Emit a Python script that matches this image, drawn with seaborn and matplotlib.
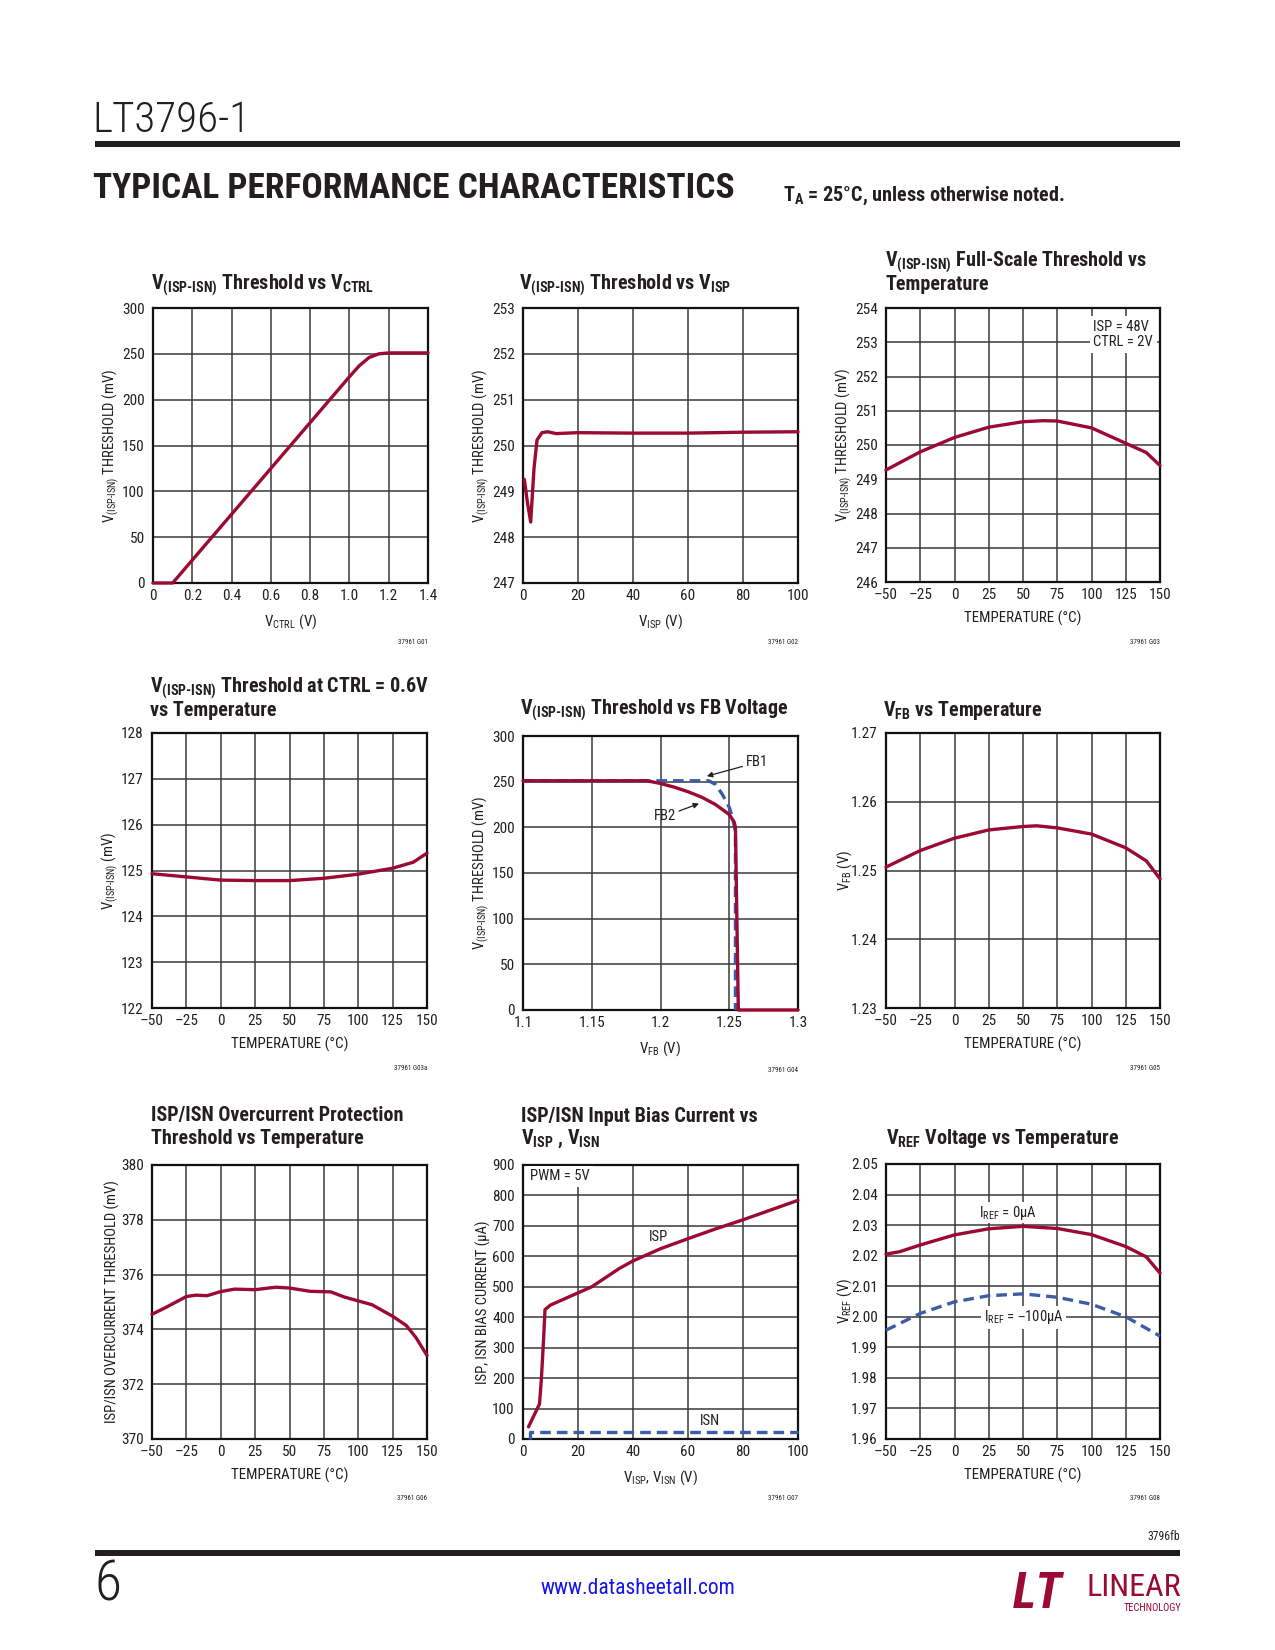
import numpy as np
import pandas as pd
import matplotlib
matplotlib.use("Agg")
import matplotlib.pyplot as plt
import matplotlib.font_manager as fm
from matplotlib.patches import Rectangle
import seaborn as sns

# ---------------- data ----------------
ctrl_v = [0, 0.1, 0.2, 0.4, 0.6, 0.8, 1.0, 1.05, 1.1, 1.15, 1.2, 1.4]
ctrl_thr = [0, 0, 25, 75, 125, 175, 225, 237, 246, 250, 251, 251]

visp_v = [0.5, 1.5, 2.8, 4.0, 5.1, 6.9, 9, 12, 20, 40, 60, 80, 100]
visp_thr = [249.26, 248.8, 248.33, 249.5, 250.12, 250.28, 250.3, 250.26, 250.28, 250.27, 250.27, 250.29, 250.3]

temp_fs = [-50, -25, 0, 25, 50, 65, 75, 100, 125, 140, 150]
fs_thr = [249.27, 249.8, 250.22, 250.52, 250.68, 250.71, 250.7, 250.5, 250.05, 249.78, 249.4]

temp_c06 = [-50, -25, 0, 25, 50, 75, 100, 125, 140, 150]
c06_thr = [124.93, 124.86, 124.79, 124.78, 124.78, 124.83, 124.92, 125.05, 125.18, 125.38]

fb2_x = [1.1, 1.19, 1.2, 1.21, 1.22, 1.23, 1.24, 1.25, 1.2535, 1.2545, 1.2566, 1.3]
fb2_y = [251, 251, 248, 244, 239, 233, 225, 214, 206, 200, 0, 0]
fb1_x = [1.1, 1.235, 1.24, 1.245, 1.25, 1.2525, 1.2545, 1.2545]
fb1_y = [251, 251, 247, 236, 222, 210, 195, 0]

temp_vfb = [-50, -25, 0, 25, 50, 60, 75, 100, 125, 140, 150]
vfb = [1.2505, 1.2529, 1.2547, 1.2559, 1.2564, 1.2565, 1.2562, 1.2553, 1.2533, 1.2514, 1.2488]

temp_ocp = [-50, -40, -25, -18, -10, 0, 10, 25, 40, 50, 65, 80, 90, 100, 110, 125, 135, 142, 150]
ocp = [374.55, 374.8, 375.2, 375.25, 375.23, 375.38, 375.47, 375.45, 375.54, 375.51, 375.39, 375.37,
       375.18, 375.04, 374.9, 374.48, 374.14, 373.7, 373.05]

isp_x = [2, 6, 6.7, 7.5, 8, 10, 15, 20, 25, 30, 35, 40, 45, 50, 60, 70, 80, 90, 100]
isp_y = [40, 115, 200, 330, 425, 440, 460, 480, 500, 530, 560, 585, 605, 625, 658, 690, 720, 752, 784]
isn_x = [2.7, 2.7, 100]
isn_y = [0, 22, 22]

temp_ref0 = [-50, -40, -25, 0, 25, 50, 75, 100, 125, 140, 150]
vref0 = [2.0205, 2.0213, 2.0235, 2.0268, 2.0288, 2.0296, 2.0289, 2.0269, 2.0230, 2.0196, 2.0143]
temp_ref100 = [-50, -25, 0, 25, 50, 75, 100, 125, 150]
vref100 = [1.9956, 2.0011, 2.0049, 2.0069, 2.0075, 2.0064, 2.0041, 2.0000, 1.9937]

temp_ticks = [-50, -25, 0, 25, 50, 75, 100, 125, 150]
temp_labels = ['\u201350', '\u201325', '0', '25', '50', '75', '100', '125', '150']

# ---------------- style ----------------
sns.set_theme(style="white")
avail = {f.name for f in fm.fontManager.ttflist}
COND, STRETCH = None, 'normal'
for c in ['Roboto Condensed', 'Liberation Sans Narrow', 'Open Sans Condensed']:
    if c in avail:
        COND = c
        break
if COND is None:
    if any(f.name == 'DejaVu Sans' and 'condensed' in str(f.stretch) for f in fm.fontManager.ttflist):
        COND, STRETCH = 'DejaVu Sans', 'condensed'
    else:
        COND = 'Liberation Sans' if 'Liberation Sans' in avail else 'DejaVu Sans'
plt.rcParams['font.family'] = [COND, 'DejaVu Sans']
plt.rcParams['font.stretch'] = STRETCH
plt.rcParams['mathtext.default'] = 'regular'
plt.rcParams['axes.unicode_minus'] = False

RED = '#9a0a32'
BLUE = '#3d5ca8'
GRID = '#3a3a3a'
TXT = '#231f20'
HY = '\u2010'  # hyphen (not a math minus)

W, H = 1275, 1650
fig = plt.figure(figsize=(W / 100, H / 100), dpi=100)
fig.patch.set_facecolor('white')


def ftext(x, y, s, **kw):
    kw.setdefault('color', TXT)
    return fig.text(x / W, 1 - y / H, s, **kw)


def make_ax(l, t, r, b):
    ax = fig.add_axes([l / W, 1 - b / H, (r - l) / W, (b - t) / H])
    ax.set_facecolor('white')
    return ax


def style(ax, xlim, ylim, xt, xtl, yt, ytl, xlabel, ylabel):
    ax.set_xlim(*xlim)
    ax.set_ylim(*ylim)
    ax.set_xticks(xt)
    ax.set_xticklabels(xtl)
    ax.set_yticks(yt)
    ax.set_yticklabels(ytl)
    ax.grid(True, color=GRID, lw=1.1)
    ax.set_axisbelow(True)
    for sp in ax.spines.values():
        sp.set_visible(True)
        sp.set_color('#111111')
        sp.set_linewidth(1.6)
    ax.tick_params(axis='both', length=0, labelsize=11, colors=TXT)
    ax.tick_params(axis='x', pad=4.5)
    ax.tick_params(axis='y', pad=6)
    ax.set_xlabel(xlabel, fontsize=10.8, color=TXT)
    ax.set_ylabel(ylabel, fontsize=10.5, color=TXT)
    ax.xaxis.set_label_coords(0.5, -0.105)
    ax.yaxis.set_label_coords(-0.117, 0.5)


def line(ax, x, y, color=RED, dashed=False, lw=2.4):
    df = pd.DataFrame({'x': x, 'y': y})
    l = sns.lineplot(data=df, x='x', y='y', ax=ax, color=color, lw=lw,
                     estimator=None, sort=False, legend=False)
    ln = l.lines[-1]
    ln.set_zorder(3)
    ln.set_clip_on(False)
    if dashed:
        ln.set_dashes([3.2, 1.8])
    return l


def title(x, y, lines):
    for i, s in enumerate(lines):
        ftext(x, y + 23 * i, s, fontsize=14.5, fontweight='bold', va='center', ha='left')


def fnote(r, y, s):
    ftext(r, y, s, fontsize=5, ha='right', va='center')


VISN = r'V$_{\mathregular{(ISP' + HY + r'ISN)}}$'
thr_lbl = VISN + ' THRESHOLD (mV)'
temp_lbl = 'TEMPERATURE (\u00b0C)'

# ---- header / footer ----
ftext(92, 121, 'LT3796' + HY + '1', fontsize=31, fontweight='light', va='center', ha='left')
fig.add_artist(Rectangle((95 / W, 1 - 147 / H), (1180 - 95) / W, 6 / H,
                         transform=fig.transFigure, color=TXT, lw=0))
ftext(93, 189, 'TYPICAL PERFORMANCE CHARACTERISTICS', fontsize=25.5, fontweight='heavy',
      va='center', ha='left')
ftext(783, 196, r'T$_{\mathregular{A}}$ = 25' + '\u00b0' + 'C, unless otherwise noted.',
      fontsize=14.5, fontweight='bold', va='center', ha='left')

ftext(1180, 1536, '3796fb', fontsize=8.5, ha='right', va='center')
fig.add_artist(Rectangle((95 / W, 1 - 1556 / H), (1180 - 95) / W, 6 / H,
                         transform=fig.transFigure, color=TXT, lw=0))
ftext(95, 1585, '6', fontsize=40, fontweight='light', va='center', ha='left')
ftext(638, 1589, 'www.datasheetall.com', fontsize=15.5, color='#1515ee', va='center', ha='center')
ftext(1013, 1594, 'LT', fontsize=36, fontweight='heavy', style='italic', color=RED, va='center', ha='left')
ftext(1181, 1588, 'LINEAR', fontsize=23, color=RED, va='center', ha='right')
ftext(1181, 1608, 'TECHNOLOGY', fontsize=7.5, color=RED, va='center', ha='right')

# ---- panel 1 ----
ax = make_ax(153, 308, 428, 583)
line(ax, ctrl_v, ctrl_thr)
style(ax, (0, 1.4), (0, 300), [0, 0.2, 0.4, 0.6, 0.8, 1.0, 1.2, 1.4],
      ['0', '0.2', '0.4', '0.6', '0.8', '1.0', '1.2', '1.4'],
      [0, 50, 100, 150, 200, 250, 300], ['0', '50', '100', '150', '200', '250', '300'],
      r'V$_{\mathregular{CTRL}}$ (V)', thr_lbl)
title(151, 285, [VISN + r' Threshold vs V$_{\mathregular{CTRL}}$'])
fnote(428, 643, '37961 G01')

# ---- panel 2 ----
ax = make_ax(523, 308, 798, 583)
line(ax, visp_v, visp_thr)
style(ax, (0, 100), (247, 253), [0, 20, 40, 60, 80, 100], ['0', '20', '40', '60', '80', '100'],
      [247, 248, 249, 250, 251, 252, 253], ['247', '248', '249', '250', '251', '252', '253'],
      r'V$_{\mathregular{ISP}}$ (V)', thr_lbl)
title(519, 285, [VISN + r' Threshold vs V$_{\mathregular{ISP}}$'])
fnote(798, 643, '37961 G02')

# ---- panel 3 ----
ax = make_ax(886, 308, 1160, 582)
line(ax, temp_fs, fs_thr)
style(ax, (-50, 150), (246, 254), temp_ticks, temp_labels,
      list(range(246, 255)), [str(v) for v in range(246, 255)], temp_lbl, thr_lbl)
ax.text(0.975, 0.958, 'ISP = 48V\nCTRL = 2V', transform=ax.transAxes, ha='right', va='top',
        fontsize=10.5, color=TXT, multialignment='left', linespacing=1.15,
        bbox=dict(fc='white', ec='none', pad=2.5))
title(885, 262, [VISN + ' Full' + HY + 'Scale Threshold vs', 'Temperature'])
fnote(1160, 643, '37961 G03')

# ---- panel 4 ----
ax = make_ax(152, 733, 427, 1008)
line(ax, temp_c06, c06_thr)
style(ax, (-50, 150), (122, 128), temp_ticks, temp_labels,
      list(range(122, 129)), [str(v) for v in range(122, 129)], temp_lbl, VISN + ' (mV)')
title(150, 688, [VISN + ' Threshold at CTRL = 0.6V', 'vs Temperature'])
fnote(427, 1068, '37961 G03a')

# ---- panel 5 ----
ax = make_ax(523, 736, 798, 1010)
line(ax, fb1_x, fb1_y, color=BLUE, dashed=True)
line(ax, fb2_x, fb2_y)
style(ax, (1.1, 1.3), (0, 300), [1.1, 1.15, 1.2, 1.25, 1.3], ['1.1', '1.15', '1.2', '1.25', '1.3'],
      [0, 50, 100, 150, 200, 250, 300], ['0', '50', '100', '150', '200', '250', '300'],
      r'V$_{\mathregular{FB}}$ (V)', thr_lbl)
ax.annotate('FB1', xy=(1.2337, 256), xytext=(1.262, 271), fontsize=10.5, color=TXT,
            ha='left', va='center',
            arrowprops=dict(arrowstyle='-|>', color=TXT, lw=0.9, shrinkA=0, shrinkB=0,
                            mutation_scale=8))
ax.annotate('FB2', xy=(1.228, 226), xytext=(1.203, 212), fontsize=10.5, color=TXT,
            ha='center', va='center',
            arrowprops=dict(arrowstyle='-|>', color=TXT, lw=0.9, shrinkA=0, shrinkB=0,
                            mutation_scale=8))
title(520, 710, [VISN + ' Threshold vs FB Voltage'])
fnote(798, 1070, '37961 G04')

# ---- panel 6 ----
ax = make_ax(886, 733, 1160, 1008)
line(ax, temp_vfb, vfb)
style(ax, (-50, 150), (1.23, 1.27), temp_ticks, temp_labels,
      [1.23, 1.24, 1.25, 1.26, 1.27], ['1.23', '1.24', '1.25', '1.26', '1.27'],
      temp_lbl, r'V$_{\mathregular{FB}}$ (V)')
title(883, 710, [r'V$_{\mathregular{FB}}$ vs Temperature'])
fnote(1160, 1068, '37961 G05')

# ---- panel 7 ----
ax = make_ax(152, 1165, 427, 1439)
line(ax, temp_ocp, ocp)
style(ax, (-50, 150), (370, 380), temp_ticks, temp_labels,
      [370, 372, 374, 376, 378, 380], ['370', '372', '374', '376', '378', '380'],
      temp_lbl, 'ISP/ISN OVERCURRENT THRESHOLD (mV)')
title(151, 1115, ['ISP/ISN Overcurrent Protection', 'Threshold vs Temperature'])
fnote(427, 1499, '37961 G06')

# ---- panel 8 ----
ax = make_ax(523, 1165, 798, 1439)
line(ax, isn_x, isn_y, color=BLUE, dashed=True)
line(ax, isp_x, isp_y)
style(ax, (0, 100), (0, 900), [0, 20, 40, 60, 80, 100], ['0', '20', '40', '60', '80', '100'],
      list(range(0, 901, 100)), [str(v) for v in range(0, 901, 100)],
      r'V$_{\mathregular{ISP}}$, V$_{\mathregular{ISN}}$ (V)', 'ISP, ISN BIAS CURRENT (\u03bcA)')
ax.text(0.025, 0.985, 'PWM = 5V', transform=ax.transAxes, ha='left', va='top', fontsize=10.5,
        color=TXT, bbox=dict(fc='white', ec='none', pad=2.5))
ax.text(49.3, 663, 'ISP', fontsize=10.5, color=TXT, ha='center', va='center')
ax.text(68.1, 58, 'ISN', fontsize=10.5, color=TXT, ha='center', va='center')
title(521, 1116, ['ISP/ISN Input Bias Current vs',
                  r'V$_{\mathregular{ISP}}$ , V$_{\mathregular{ISN}}$'])
fnote(798, 1499, '37961 G07')

# ---- panel 9 ----
ax = make_ax(886, 1164, 1160, 1439)
line(ax, temp_ref100, vref100, color=BLUE, dashed=True)
line(ax, temp_ref0, vref0)
vt = [1.96, 1.97, 1.98, 1.99, 2.00, 2.01, 2.02, 2.03, 2.04, 2.05]
style(ax, (-50, 150), (1.96, 2.05), temp_ticks, temp_labels,
      vt, ['%.2f' % v for v in vt], temp_lbl, r'V$_{\mathregular{REF}}$ (V)')
ax.text(39.4, 2.0341, r'I$_{\mathregular{REF}}$ = 0' + '\u03bcA',
        fontsize=10.5, color=TXT, ha='center', va='center',
        bbox=dict(fc='white', ec='none', pad=1))
ax.text(50.4, 1.9998, r'I$_{\mathregular{REF}}$ = ' + '\u2013100\u03bcA',
        fontsize=10.5, color=TXT, ha='center', va='center',
        bbox=dict(fc='white', ec='none', pad=2))
title(886, 1139, [r'V$_{\mathregular{REF}}$ Voltage vs Temperature'])
fnote(1160, 1499, '37961 G08')

fig.savefig('out.png', dpi=100, facecolor='white')
